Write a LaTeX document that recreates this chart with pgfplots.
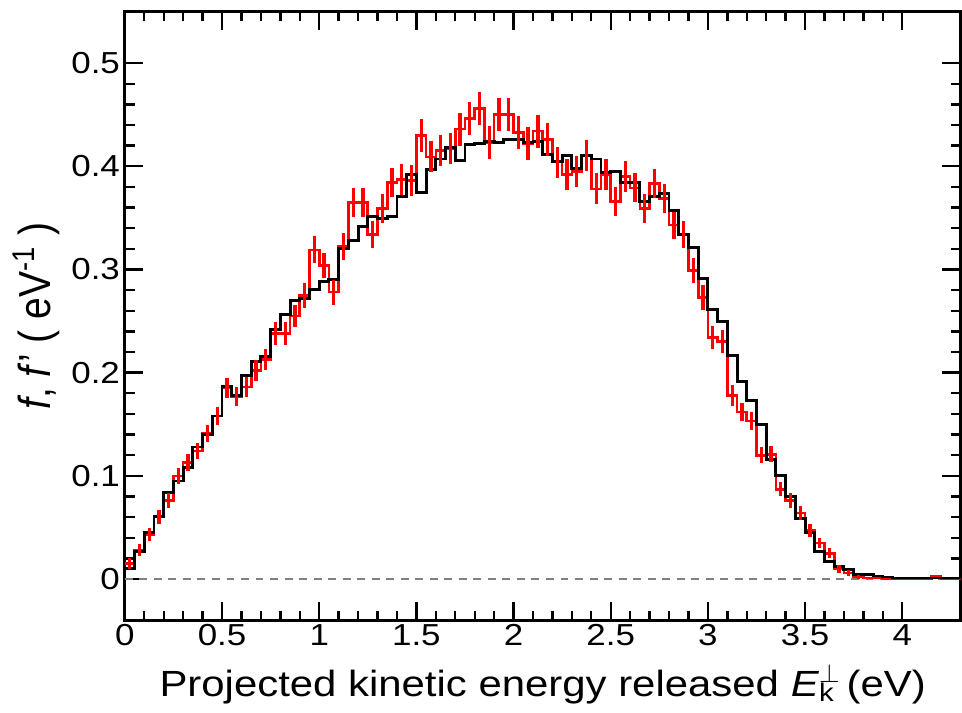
\documentclass[border=0pt]{standalone}
\usepackage{fontspec}
\setmainfont[FakeStretch=1.15]{Liberation Sans}
\newfontfamily\ylfont[FakeStretch=0.87]{Liberation Sans}
\usepackage{pgfplots}
\usepackage{pgfplotstable}
\pgfplotsset{compat=1.18}

% x = left bin edge (eV), b = black histogram, r = red histogram, e = red error
\pgfplotstableread{
x    b      r      e
0.00 0.010  0.015  0.005
0.05 0.027  0.028  0.006
0.10 0.045  0.043  0.006
0.15 0.061  0.060  0.0065
0.20 0.084  0.076  0.007
0.25 0.095  0.100  0.0075
0.30 0.108  0.113  0.008
0.35 0.128  0.124  0.008
0.40 0.140  0.141  0.0085
0.45 0.158  0.158  0.009
0.50 0.187  0.185  0.0095
0.55 0.178  0.177  0.0095
0.60 0.197  0.186  0.0095
0.65 0.211  0.202  0.010
0.70 0.216  0.213  0.010
0.75 0.242  0.238  0.011
0.80 0.256  0.238  0.011
0.85 0.270  0.255  0.011
0.90 0.272  0.275  0.012
0.95 0.281  0.319  0.013
1.00 0.288  0.304  0.012
1.05 0.290  0.278  0.012
1.10 0.320  0.322  0.013
1.15 0.328  0.365  0.014
1.20 0.342  0.365  0.014
1.25 0.351  0.334  0.013
1.30 0.349  0.359  0.014
1.35 0.351  0.384  0.014
1.40 0.371  0.387  0.015
1.45 0.392  0.386  0.015
1.50 0.375  0.430  0.016
1.55 0.397  0.409  0.015
1.60 0.407  0.415  0.015
1.65 0.418  0.417  0.015
1.70 0.406  0.436  0.016
1.75 0.421  0.446  0.016
1.80 0.422  0.456  0.016
1.85 0.424  0.423  0.016
1.90 0.423  0.450  0.016
1.95 0.426  0.450  0.016
2.00 0.426  0.433  0.016
2.05 0.423  0.422  0.016
2.10 0.424  0.434  0.016
2.15 0.411  0.426  0.016
2.20 0.405  0.404  0.015
2.25 0.410  0.392  0.015
2.30 0.398  0.395  0.015
2.35 0.410  0.410  0.015
2.40 0.407  0.378  0.015
2.45 0.394  0.392  0.015
2.50 0.395  0.366  0.014
2.55 0.384  0.390  0.015
2.60 0.384  0.379  0.014
2.65 0.366  0.359  0.014
2.70 0.371  0.383  0.014
2.75 0.374  0.369  0.014
2.80 0.357  0.343  0.013
2.85 0.334  0.334  0.013
2.90 0.321  0.299  0.012
2.95 0.291  0.273  0.012
3.00 0.261  0.234  0.011
3.05 0.250  0.230  0.011
3.10 0.217  0.178  0.010
3.15 0.191  0.162  0.009
3.20 0.173  0.153  0.009
3.25 0.150  0.120  0.008
3.30 0.116  0.121  0.008
3.35 0.100  0.087  0.007
3.40 0.080  0.076  0.007
3.45 0.059  0.064  0.0065
3.50 0.045  0.047  0.006
3.55 0.027  0.035  0.005
3.60 0.017  0.025  0.005
3.65 0.012  0.010  0.004
3.70 0.009  0.006  0.003
3.75 0.0045 0.002  0.002
3.80 0.004  0.001  0.001
3.85 0.003  0.001  0.001
3.90 0.002  0.000  0.001
3.95 0.001  0.000  0.000
4.00 0.001  0.000  0.000
4.05 0.001  0.000  0.000
4.10 0.001  0.000  0.000
4.15 0.001  0.003  0.001
4.20 0.001  0.000  0.000
4.25 0.001  0.000  0.000
4.30 0.001  0.000  0.000
}\hist

\begin{document}
\begin{tikzpicture}
\begin{axis}[
  scale only axis,
  width=316.5pt, height=230.6pt,
  xmin=0, xmax=4.3,
  ymin=-0.04, ymax=0.55,
  xtick={0,0.5,1,1.5,2,2.5,3,3.5,4},
  ytick={0,0.1,0.2,0.3,0.4,0.5},
  minor x tick num=4, minor y tick num=4,
  tick pos=both, tick align=inside,
  major tick length=7pt, minor tick length=3.7pt,
  every tick/.style={black, line width=0.9pt},
  axis line style={line width=1.1pt},
  /pgf/number format/assume math mode=true,
  tick label style={font=\fontsize{11.5}{13}\selectfont},
  xticklabel style={yshift=2pt},
  yticklabel style={xshift=1.65pt},
  xlabel={Projected kinetic energy released \textit{E}\rlap{\textsuperscript{$\perp$}}\textsubscript{k} (eV)},
  xlabel style={font=\fontsize{13.8}{15}\selectfont, yshift=0pt},
  ylabel={\textit{f}, \textit{f}’ ( eV\textsuperscript{-1} )},
  ylabel style={font=\ylfont\fontsize{17}{19}\selectfont, yshift=-2.65pt},
  clip=true,
]
\addplot[gray, line width=0.5pt, dash pattern=on 3pt off 2.5pt] coordinates {(0,0) (4.3,0)};
\addplot[red, line width=1.0pt, const plot mark left] table[x=x, y=r] {\hist};
\addplot[black, line width=1.1pt, const plot mark left] table[x=x, y=b] {\hist};
\addplot[draw=none, mark=none,
  error bars/.cd, y dir=both, y explicit, error mark=none,
  error bar style={draw=red, line width=1.25pt}]
  table[x expr=\thisrow{x}+0.025, y=r, y error=e] {\hist};
\end{axis}
% white margin on the left and above, as in the reference
\path (current bounding box.south west) ++(-1.5pt,0pt);
\path (current bounding box.north east) ++(0pt,3.8pt);
\end{tikzpicture}
\end{document}
